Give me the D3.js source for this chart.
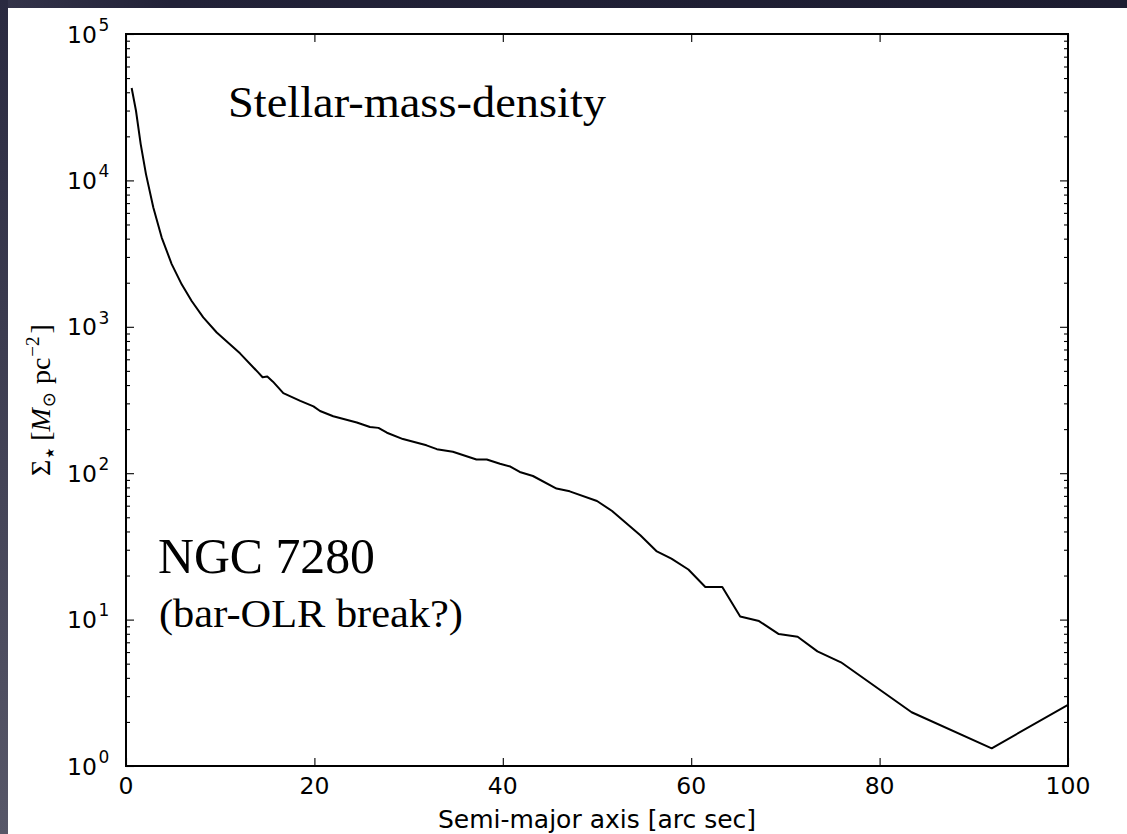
<!DOCTYPE html>
<html>
<head>
<meta charset="utf-8">
<script src="https://cdn.jsdelivr.net/npm/d3@7"></script>
<style>
  html, body { margin: 0; padding: 0; background: #fff; }
  svg { display: block; }
</style>
</head>
<body>
<svg id="chart" width="1127" height="834"></svg>
<script>
// Stellar mass surface density profile of NGC 7280 along the semi-major axis
const radius = [0.6, 1.06, 1.56, 2.12, 2.9, 3.79, 4.85, 5.91, 6.97, 8.2, 9.63,
  12.1, 14.0, 14.5, 15.0, 15.6, 16.7, 18.5, 19.9, 20.6, 22.0, 24.5, 25.9, 26.8,
  27.7, 29.4, 31.9, 33.0, 34.7, 37.2, 38.3, 39.7, 40.8, 41.8, 43.2, 45.7, 47.1,
  50.0, 51.6, 54.6, 56.3, 57.9, 59.7, 61.5, 63.3, 65.2, 67.2, 69.3, 71.3, 73.4,
  75.9, 83.4, 91.9, 100];
const sigma = [42800, 29900, 17700, 11040, 6530, 4070, 2680, 1950, 1500, 1160, 914,
  659, 490, 452, 457, 422, 352, 312, 286, 266, 245, 222, 207, 204,
  189, 171, 155, 146, 140, 124, 124, 116, 111, 102, 95.7, 78.5, 75.2,
  64.6, 55.2, 37.7, 29.4, 26.1, 22.0, 16.7, 16.7, 10.5, 9.77, 7.96, 7.64, 6.07,
  5.11, 2.33, 1.32, 2.62];

const xTicks = [0, 20, 40, 60, 80, 100];
const yDecades = [0, 1, 2, 3, 4, 5];

const W = 1127, H = 834;
const plot = { left: 126, right: 1068, top: 34, bottom: 766 };

const svg = d3.select("#chart");
const defs = svg.append("defs");

// slide backdrop: white page with dark strips on top and left
const gTop = defs.append("linearGradient").attr("id", "topStrip")
  .attr("x1", 0).attr("x2", 1).attr("y1", 0).attr("y2", 0);
gTop.append("stop").attr("offset", 0).attr("stop-color", "#34344a");
gTop.append("stop").attr("offset", 0.15).attr("stop-color", "#222238");
gTop.append("stop").attr("offset", 1).attr("stop-color", "#1d1d31");
const gLeft = defs.append("linearGradient").attr("id", "leftStrip")
  .attr("x1", 0).attr("x2", 0).attr("y1", 0).attr("y2", 1);
gLeft.append("stop").attr("offset", 0).attr("stop-color", "#2a2a40");
gLeft.append("stop").attr("offset", 1).attr("stop-color", "#575768");

svg.append("rect").attr("width", W).attr("height", H).attr("fill", "#fff");
svg.append("rect").attr("x", 0).attr("y", 0).attr("width", W).attr("height", 8)
  .attr("fill", "url(#topStrip)");
svg.append("rect").attr("x", 0).attr("y", 0).attr("width", 8).attr("height", H)
  .attr("fill", "url(#leftStrip)");

const x = d3.scaleLinear().domain([0, 100]).range([plot.left, plot.right]);
const y = d3.scaleLog().domain([1, 1e5]).range([plot.bottom, plot.top]);

defs.append("clipPath").attr("id", "plotClip").append("rect")
  .attr("x", plot.left).attr("y", plot.top)
  .attr("width", plot.right - plot.left).attr("height", plot.bottom - plot.top);

// profile curve
const line = d3.line().x(d => x(d[0])).y(d => y(d[1]));
svg.append("path")
  .datum(radius.map((r, i) => [r, sigma[i]]))
  .attr("clip-path", "url(#plotClip)")
  .attr("fill", "none").attr("stroke", "#000").attr("stroke-width", 2)
  .attr("stroke-linejoin", "round")
  .attr("d", line);

// inward-pointing ticks on all four sides
const majorY = yDecades.map(e => Math.pow(10, e));
const minorY = [];
yDecades.slice(0, -1).forEach(e => {
  for (let k = 2; k <= 9; k++) minorY.push(k * Math.pow(10, e));
});

function styleAxis(g) {
  g.select(".domain").remove();
  g.selectAll(".tick line").attr("stroke", "#000").attr("stroke-width", 1.1);
  g.selectAll(".tick text").remove();
}

svg.append("g").attr("transform", `translate(0,${plot.bottom})`)
  .call(d3.axisBottom(x).tickValues(xTicks).tickSize(-8)).call(styleAxis);
svg.append("g").attr("transform", `translate(0,${plot.top})`)
  .call(d3.axisTop(x).tickValues(xTicks).tickSize(-8)).call(styleAxis);
svg.append("g").attr("transform", `translate(${plot.left},0)`)
  .call(d3.axisLeft(y).tickValues(majorY).tickSize(-8)).call(styleAxis);
svg.append("g").attr("transform", `translate(${plot.left},0)`)
  .call(d3.axisLeft(y).tickValues(minorY).tickSize(-4)).call(styleAxis);
svg.append("g").attr("transform", `translate(${plot.right},0)`)
  .call(d3.axisRight(y).tickValues(majorY).tickSize(-8)).call(styleAxis);
svg.append("g").attr("transform", `translate(${plot.right},0)`)
  .call(d3.axisRight(y).tickValues(minorY).tickSize(-4)).call(styleAxis);

// frame
svg.append("rect")
  .attr("x", plot.left).attr("y", plot.top)
  .attr("width", plot.right - plot.left).attr("height", plot.bottom - plot.top)
  .attr("fill", "none").attr("stroke", "#000").attr("stroke-width", 2);

// tick labels
const sans = "'DejaVu Sans', sans-serif";
svg.append("g").selectAll("text").data(xTicks).join("text")
  .attr("x", d => x(d)).attr("y", plot.bottom + 28)
  .attr("text-anchor", "middle")
  .attr("font-family", sans).attr("font-size", 23.5).attr("fill", "#000")
  .text(d => d);

const yLab = svg.append("g").selectAll("g").data(yDecades).join("g");
yLab.append("text")
  .attr("x", 97).attr("y", d => y(Math.pow(10, d)) + 8.5)
  .attr("text-anchor", "end")
  .attr("font-family", sans).attr("font-size", 23.5).attr("fill", "#000")
  .text("10");
yLab.append("text")
  .attr("x", 98.5).attr("y", d => y(Math.pow(10, d)) - 3.3)
  .attr("font-family", sans).attr("font-size", 17).attr("fill", "#000")
  .text(d => d);

// axis titles
svg.append("text")
  .attr("x", (plot.left + plot.right) / 2).attr("y", 828)
  .attr("text-anchor", "middle")
  .attr("font-family", sans).attr("font-size", 25).attr("fill", "#000")
  .text("Semi-major axis [arc sec]");

const serif = "'Liberation Serif', 'DejaVu Serif', serif";
const yt = svg.append("text")
  .attr("transform", `translate(50,${(plot.top + plot.bottom) / 2}) rotate(-90)`)
  .attr("text-anchor", "middle")
  .attr("font-family", serif).attr("font-size", 28).attr("fill", "#000");
yt.append("tspan").text("Σ");
yt.append("tspan").attr("font-family", sans).attr("font-size", 12).attr("dy", 4).attr("dx", 1).text("★");
yt.append("tspan").attr("dy", -4).attr("dx", 7).text("[");
yt.append("tspan").attr("font-style", "italic").text("M");
yt.append("tspan").attr("font-family", sans).attr("font-size", 18).attr("dy", 5).attr("dx", 1).text("⊙");
yt.append("tspan").attr("dy", -5).attr("dx", 8).text("pc");
yt.append("tspan").attr("font-size", 19).attr("dy", -11).attr("dx", 1).text("−2");
yt.append("tspan").attr("dy", 11).attr("dx", 3).text("]");

// annotations
svg.append("text").attr("x", 228).attr("y", 117)
  .attr("font-family", serif).attr("font-size", 45).attr("fill", "#000")
  .attr("textLength", 378).attr("lengthAdjust", "spacingAndGlyphs")
  .text("Stellar-mass-density");
svg.append("text").attr("x", 158).attr("y", 573)
  .attr("font-family", serif).attr("font-size", 50).attr("fill", "#000")
  .attr("textLength", 217).attr("lengthAdjust", "spacingAndGlyphs")
  .text("NGC 7280");
svg.append("text").attr("x", 159).attr("y", 627)
  .attr("font-family", serif).attr("font-size", 41).attr("fill", "#000")
  .attr("textLength", 304).attr("lengthAdjust", "spacingAndGlyphs")
  .text("(bar-OLR break?)");
</script>
</body>
</html>
